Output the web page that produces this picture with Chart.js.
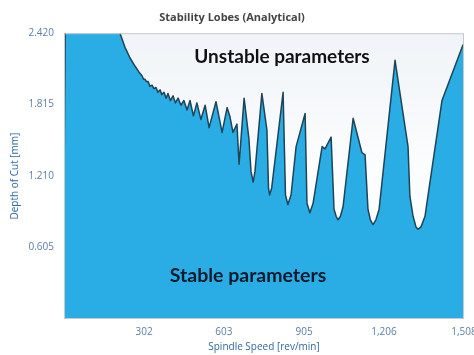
<!DOCTYPE html>
<html>
<head>
<meta charset="utf-8">
<script src="https://cdn.jsdelivr.net/npm/chart.js@4"></script>
<style>
  html, body { margin: 0; padding: 0; background: #ffffff; }
  #wrap { width: 474px; height: 355px; }
</style>
</head>
<body>
<div id="wrap"><canvas id="lobes"></canvas></div>
<script>
    "use strict";

    // Spindle speed [rev/min]
    var speeds = [0, 8, 136, 181, 211, 230, 249, 268, 283,
        294, 300, 305, 311, 317, 324, 332, 339, 347, 354,
        362, 369, 377, 385, 392, 401, 411, 420, 430, 441,
        452, 464, 475, 488, 501, 516, 532, 547, 573, 596,
        615, 626, 637, 652, 660, 679, 697, 705, 713, 720,
        746, 765, 771, 775, 783, 826, 835, 844, 856, 875,
        909, 916, 927, 939, 973, 984, 1007, 1018, 1026, 1033,
        1042, 1052, 1090, 1123, 1135, 1146, 1155, 1165, 1176, 1188,
        1248, 1297, 1304, 1316, 1327, 1335, 1346, 1361, 1372, 1425,
        1504, 1508];

    // Depth of cut [mm]
    var depths = [1.11, 3.5, 3.0, 2.65, 2.42, 2.30, 2.21, 2.14, 2.09,
        2.06, 2.03, 2.03, 2.01, 2.01, 1.97, 1.98, 1.95, 1.96, 1.92,
        1.94, 1.90, 1.92, 1.87, 1.91, 1.85, 1.89, 1.83, 1.87, 1.81,
        1.85, 1.77, 1.85, 1.72, 1.83, 1.69, 1.81, 1.62, 1.84, 1.58,
        1.79, 1.71, 1.58, 1.65, 1.31, 1.87, 1.53, 1.25, 1.16, 1.25,
        1.91, 1.60, 1.11, 1.05, 1.11, 1.92, 1.05, 0.97, 1.05, 1.46,
        1.74, 0.98, 0.90, 0.98, 1.46, 1.44, 1.54, 0.93, 0.87, 0.84,
        0.87, 0.95, 1.70, 1.41, 1.39, 0.93, 0.84, 0.80, 0.84, 0.93,
        2.19, 1.46, 1.04, 0.87, 0.78, 0.76, 0.78, 0.87, 1.04, 1.85,
        2.32, 2.30];

    var xTicks = [302, 603, 905, 1206, 1508];
    var yTicks = [0.605, 1.210, 1.815, 2.420];

    var points = speeds.map(function (s, i) {
        return { x: s, y: depths[i] };
    });

    // plot background, frame and region labels
    var plotFrame = {
        id: 'plotFrame',
        beforeDatasetsDraw: function (chart) {
            var a = chart.chartArea, ctx = chart.ctx;
            var g = ctx.createLinearGradient(0, a.top, 0, a.bottom);
            g.addColorStop(0, '#f0f4f8');
            g.addColorStop(0.5, '#fcfdfe');
            g.addColorStop(1, '#ffffff');
            ctx.save();
            ctx.fillStyle = g;
            ctx.fillRect(a.left, a.top, a.right - a.left, a.bottom - a.top);
            ctx.restore();
        },
        afterDatasetsDraw: function (chart) {
            var a = chart.chartArea, ctx = chart.ctx;
            ctx.save();
            ctx.strokeStyle = '#c9c9c9';
            ctx.lineWidth = 1;
            ctx.strokeRect(a.left + 0.5, a.top + 0.5, a.right - a.left - 1, a.bottom - a.top - 1);

            var fitText = function (txt, cx, cy, w, color) {
                var size = 20;
                ctx.font = 'bold ' + size + 'px Lato';
                while (ctx.measureText(txt).width > w && size > 8) {
                    size -= 0.5;
                    ctx.font = 'bold ' + size + 'px Lato';
                }
                ctx.fillStyle = color;
                ctx.textAlign = 'center';
                ctx.textBaseline = 'middle';
                ctx.fillText(txt, cx, cy);
            };
            fitText('Unstable parameters', 282, 57, 179, '#111111');
            fitText('Stable parameters', 248, 276, 160, '#0c1a2b');
            ctx.restore();
        }
    };

    var ctx1 = document.getElementById('lobes').getContext('2d');
    var myChart1 = new Chart(ctx1, {
        type: 'line',
        data: {
            datasets: [{
                label: 'Stability limit',
                data: points,
                borderColor: '#1d4457',
                borderWidth: 1.5,
                borderJoinStyle: 'round',
                backgroundColor: '#2aace4',
                fill: 'origin',
                pointRadius: 0,
                tension: 0
            }]
        },
        options: {
            responsive: true,
            maintainAspectRatio: false,
            animation: false,
            layout: {
                autoPadding: false,
                padding: { top: 0, right: 10, bottom: 0, left: 0 }
            },
            plugins: {
                legend: { display: false },
                tooltip: { enabled: false },
                title: {
                    display: true,
                    text: 'Stability Lobes (Analytical)',
                    color: '#444444',
                    font: { family: 'Open Sans', size: 11, weight: 'bold' },
                    padding: { top: 11, bottom: 9 }
                }
            },
            scales: {
                x: {
                    type: 'linear',
                    min: 0,
                    max: 1508,
                    grid: { display: false, drawTicks: false },
                    border: { display: false },
                    afterBuildTicks: function (scale) {
                        scale.ticks = xTicks.map(function (v) { return { value: v }; });
                    },
                    afterFit: function (scale) {
                        scale.height = 36;
                        scale.paddingLeft = 0;
                        scale.paddingRight = 0;
                    },
                    ticks: {
                        color: '#5a7ca6',
                        font: { family: 'Open Sans', size: 10 },
                        padding: 7,
                        maxRotation: 0,
                        callback: function (v) { return v.toLocaleString('en-US'); }
                    },
                    title: {
                        display: true,
                        text: 'Spindle Speed [rev/min]',
                        color: '#2f68a0',
                        font: { family: 'Open Sans', size: 10 },
                        padding: { top: 0, bottom: 2 }
                    }
                },
                y: {
                    min: 0,
                    max: 2.42,
                    grid: { display: false, drawTicks: false },
                    border: { display: false },
                    afterBuildTicks: function (scale) {
                        scale.ticks = yTicks.map(function (v) { return { value: v }; });
                    },
                    afterFit: function (scale) {
                        scale.width = 64;
                        scale.paddingTop = 0;
                        scale.paddingBottom = 0;
                    },
                    ticks: {
                        color: '#5a7ca6',
                        font: { family: 'Open Sans', size: 10 },
                        padding: 10,
                        callback: function (v) { return v.toFixed(3); }
                    },
                    title: {
                        display: true,
                        text: 'Depth of Cut [mm]',
                        color: '#2f68a0',
                        font: { family: 'Open Sans', size: 10 },
                        padding: { top: 9, bottom: 0 }
                    }
                }
            }
        },
        plugins: [plotFrame]
    });
</script>
</body>
</html>
